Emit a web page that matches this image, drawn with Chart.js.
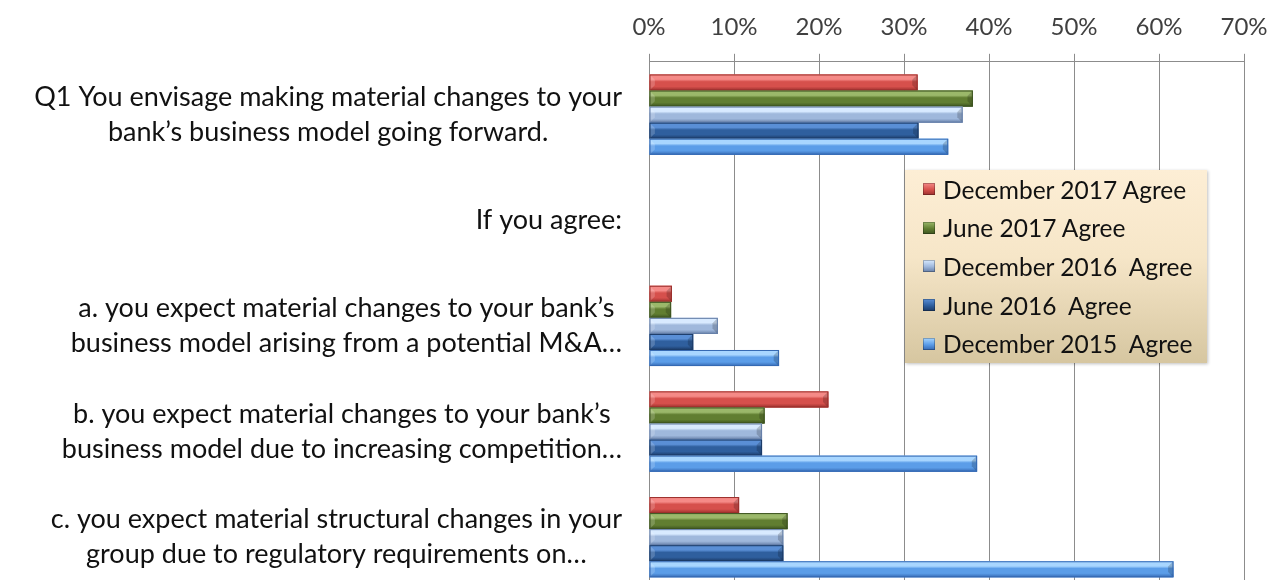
<!DOCTYPE html>
<html>
<head>
<meta charset="utf-8">
<script src="https://cdn.jsdelivr.net/npm/chart.js@4/dist/chart.umd.min.js"></script>
<style>
    html, body { margin: 0; padding: 0; background: #fff; overflow: hidden; }
    #wrap { position: relative; width: 1270px; height: 580px; overflow: hidden; }
    #box { position: absolute; left: 0; top: 0; width: 1270px; height: 590px; }
    #legend {
        position: absolute; left: 905px; top: 170px; width: 302px; height: 193px;
        background: linear-gradient(to bottom, #fdeed5 0%, #f6e6c8 45%, #d6c6a0 100%);
        box-shadow: 1px 1px 3px rgba(0,0,0,0.25);
        font-family: Lato, sans-serif; font-size: 24.5px; color: #111;
    }
    .row { height: 38.6px; display: flex; align-items: center; padding-left: 18px; white-space: pre; }
    .mark { width: 12px; height: 12px; margin-right: 8px; box-shadow: inset 0 0 0 1px rgba(0,0,0,0.25); }
</style>
</head>
<body>
<div id="wrap">
    <div id="box"><canvas id="barChart"></canvas></div>
    <div id="legend"></div>
</div>
<script>
/* =======================
   DATA
======================= */
const categories = [
    ["Q1 You envisage making material changes to your", "bank\u2019s business model going forward."],
    ["If you agree:"],
    ["a. you expect material changes to your bank\u2019s", "business model arising from a potential M&A\u2026"],
    ["b. you expect material changes to your bank\u2019s", "business model due to increasing competition\u2026"],
    ["c. you expect material structural changes in your", "group due to regulatory requirements on\u2026"]
];

const seriesNames = [
    "December 2017 Agree",
    "June 2017 Agree",
    "December 2016  Agree",
    "June 2016  Agree",
    "December 2015  Agree"
];

const dec2017 = [31.6, null, 2.7, 21.1, 10.6];
const jun2017 = [38.1, null, 2.6, 13.6, 16.3];
const dec2016 = [36.9, null, 8.1, 13.3, 15.8];
const jun2016 = [31.7, null, 5.2, 13.3, 15.8];
const dec2015 = [35.2, null, 15.3, 38.6, 61.7];

const xTicks = [0, 10, 20, 30, 40, 50, 60, 70];

/* top / middle / bottom shades for the bevelled bars */
const shades = [
    ["#f58a87", "#d6504c", "#9b302d"],
    ["#9bb86a", "#617e31", "#3c5320"],
    ["#d8eaff", "#9fb8dc", "#667fa8"],
    ["#5a8fd6", "#2f5f9e", "#1b3a66"],
    ["#a8d6ff", "#5b9de8", "#3569b3"]
];

const seriesValues = [dec2017, jun2017, dec2016, jun2016, dec2015];

/* =======================
   PLUGINS
======================= */
// bevelled look on top of the plain bars
const bevelBars = {
    id: "bevelBars",
    afterDatasetsDraw(chart) {
        const ctx = chart.ctx;
        chart.data.datasets.forEach((ds, di) => {
            const meta = chart.getDatasetMeta(di);
            const c = shades[di];
            meta.data.forEach((bar, i) => {
                if (ds.data[i] == null) return;
                const p = bar.getProps(["x", "y", "base", "height"], true);
                const top = p.y - p.height / 2;
                const h = p.height;
                const left = p.base;
                const w = p.x - p.base;
                const g = ctx.createLinearGradient(0, top, 0, top + h);
                g.addColorStop(0, c[0]);
                g.addColorStop(0.3, c[0]);
                g.addColorStop(0.45, c[1]);
                g.addColorStop(0.75, c[1]);
                g.addColorStop(1, c[2]);
                ctx.save();
                ctx.fillStyle = g;
                ctx.fillRect(left, top, w, h);
                // right end facet
                const f = Math.min(h / 3, w / 2);
                ctx.fillStyle = "rgba(0,0,0,0.18)";
                ctx.beginPath();
                ctx.moveTo(left + w, top);
                ctx.lineTo(left + w - f, top + f);
                ctx.lineTo(left + w - f, top + h - f);
                ctx.lineTo(left + w, top + h);
                ctx.closePath();
                ctx.fill();
                // left end facet
                ctx.fillStyle = "rgba(255,255,255,0.18)";
                ctx.beginPath();
                ctx.moveTo(left, top);
                ctx.lineTo(left + f, top + f);
                ctx.lineTo(left + f, top + h - f);
                ctx.lineTo(left, top + h);
                ctx.closePath();
                ctx.fill();
                ctx.strokeStyle = c[2];
                ctx.lineWidth = 1;
                ctx.strokeRect(left + 0.5, top + 0.5, w - 1, h - 1);
                ctx.restore();
            });
        });
    }
};

// category labels: block right aligned, lines centred inside it
const categoryLabels = {
    id: "categoryLabels",
    afterDraw(chart) {
        const ctx = chart.ctx;
        const yScale = chart.scales.y;
        const rightEdge = chart.chartArea.left - 27;
        const lineH = 35;
        ctx.save();
        ctx.font = "27px Lato, sans-serif";
        ctx.fillStyle = "#111";
        ctx.textAlign = "center";
        ctx.textBaseline = "middle";
        categories.forEach((lines, i) => {
            const cy = yScale.getPixelForTick(i);
            const maxW = Math.max(...lines.map(l => ctx.measureText(l).width));
            const cx = rightEdge - maxW / 2;
            lines.forEach((l, k) => {
                const y = cy + (k - (lines.length - 1) / 2) * lineH;
                ctx.fillText(l, cx, y);
            });
        });
        ctx.restore();
    }
};

/* =======================
   CHART
======================= */
const chart = new Chart(document.getElementById("barChart"), {
    type: "bar",
    data: {
        labels: categories.map(c => c.join(" ")),
        datasets: seriesNames.map((name, i) => ({
            label: name,
            data: seriesValues[i],
            backgroundColor: shades[i][1],
            categoryPercentage: 0.76,
            barPercentage: 1.0
        }))
    },
    options: {
        indexAxis: "y",
        responsive: true,
        maintainAspectRatio: false,
        animation: false,
        layout: { padding: { top: 1, right: 26, bottom: 0, left: 0 } },
        plugins: {
            legend: { display: false },
            tooltip: { enabled: false }
        },
        scales: {
            x: {
                position: "top",
                min: 0,
                max: 70,
                afterBuildTicks: scale => {
                    scale.ticks = xTicks.map(v => ({ value: v }));
                },
                afterFit: scale => {
                    scale.paddingRight = 0;
                    scale.paddingLeft = 0;
                },
                ticks: {
                    callback: v => v + "%",
                    font: { family: "Lato, sans-serif", size: 24 },
                    color: "#404040",
                    padding: 12
                },
                grid: { color: "#8c8c8c", lineWidth: 1, tickLength: 8 },
                border: { display: true, color: "#8c8c8c" }
            },
            y: {
                ticks: { display: false },
                grid: { display: false },
                border: { display: false },
                afterFit: scale => { scale.width = 649; }
            }
        }
    },
    plugins: [bevelBars, categoryLabels]
});

/* LEGEND */
const legendBox = document.getElementById("legend");
seriesNames.forEach((name, i) => {
    const row = document.createElement("div");
    row.className = "row";
    const mark = document.createElement("span");
    mark.className = "mark";
    mark.style.background = "linear-gradient(to bottom, " + shades[i][0] + ", " + shades[i][1] + " 55%, " + shades[i][2] + ")";
    const txt = document.createElement("span");
    txt.textContent = name;
    row.appendChild(mark);
    row.appendChild(txt);
    legendBox.appendChild(row);
});
</script>
</body>
</html>
